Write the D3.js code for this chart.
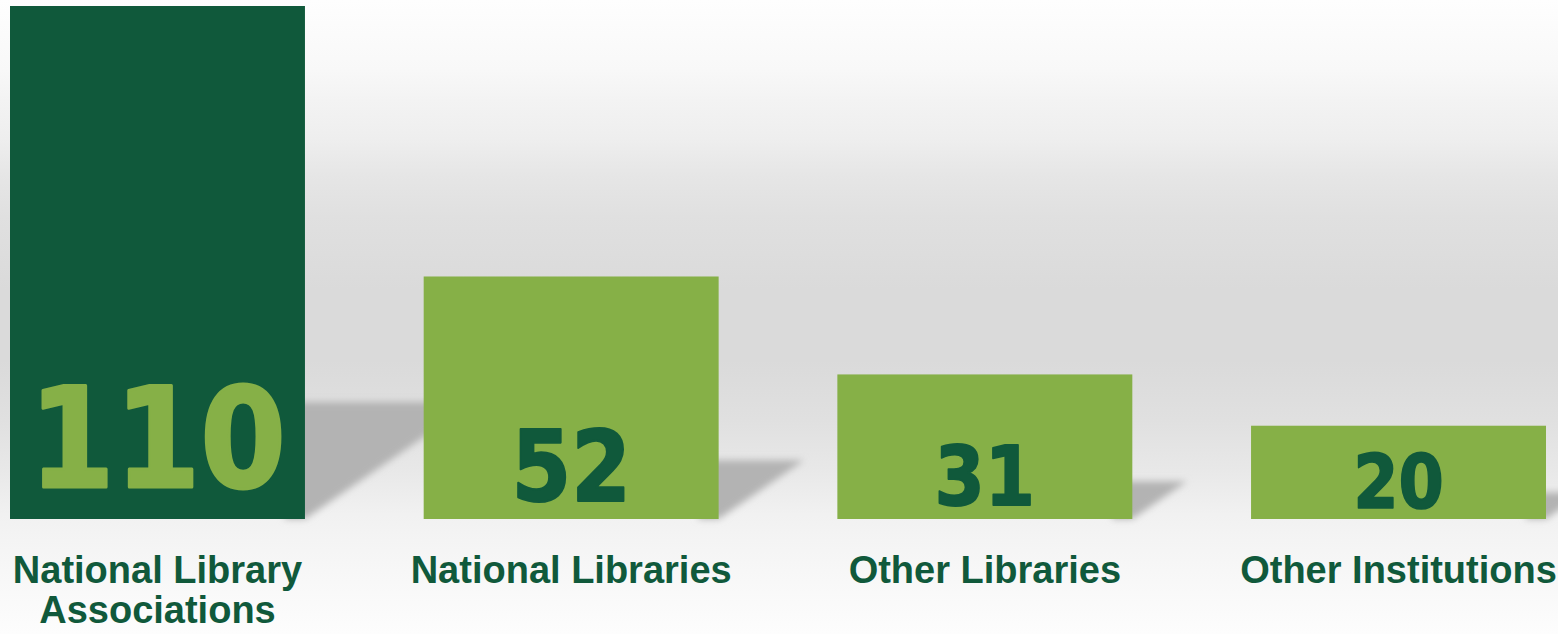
<!DOCTYPE html>
<html>
<head>
<meta charset="utf-8">
<script src="https://cdn.jsdelivr.net/npm/d3@7"></script>
<style>
  body { margin: 0; background: #fff; }
  svg { display: block; }
</style>
</head>
<body>
<div id="chart"></div>
<script>
// data
var categories = ["National Library Associations", "National Libraries", "Other Libraries", "Other Institutions"];
var counts = [110, 52, 31, 20];

var width = 1558, height = 634;
var baseline = 519, topY = 6;
var darkGreen = "#10593b", lightGreen = "#86b047";

var svg = d3.select("#chart").append("svg")
    .attr("width", width)
    .attr("height", height);

var defs = svg.append("defs");

// grey backdrop gradient
var bg = defs.append("linearGradient")
    .attr("id", "bg")
    .attr("x1", 0).attr("y1", 0).attr("x2", 0).attr("y2", 1);
[[0, "#fefefe"], [0.11, "#f8f8f8"], [0.158, "#f3f3f3"], [0.22, "#eeeeee"], [0.276, "#e6e6e6"],
 [0.342, "#e0e0e0"], [0.457, "#dadada"], [0.568, "#dadada"], [0.662, "#e0e0e0"],
 [0.741, "#e8e8e8"], [0.812, "#f1f1f1"], [0.852, "#f4f4f4"], [1, "#fdfdfd"]]
    .forEach(function(s) {
        bg.append("stop").attr("offset", s[0]).attr("stop-color", s[1]);
    });

defs.append("filter")
    .attr("id", "soft")
    .attr("x", "-20%").attr("y", "-20%").attr("width", "140%").attr("height", "140%")
    .append("feGaussianBlur")
    .attr("stdDeviation", 3.5);

svg.append("rect")
    .attr("width", width)
    .attr("height", height)
    .attr("fill", "url(#bg)");

// scales
var x = d3.scaleBand()
    .domain(categories)
    .range([10, 1546])
    .paddingInner(0.287)
    .paddingOuter(0);

var y = d3.scaleLinear()
    .domain([0, d3.max(counts)])
    .range([baseline, topY]);

var maxVal = d3.max(counts);
var data = categories.map(function(c, i) { return { cat: c, val: counts[i] }; });

// cast shadows to the right of each bar
svg.append("g")
    .attr("filter", "url(#soft)")
    .selectAll("path")
    .data(data)
    .enter()
    .append("path")
    .attr("fill", "#b3b3b3")
    .attr("d", function(d) {
        var h = baseline - y(d.val);
        var sh = 0.215 * h + 6.6;
        var xr = x(d.cat) + x.bandwidth();
        return "M" + (xr - 20) + "," + baseline +
            "L" + (xr - 20) + "," + (baseline - sh) +
            "L" + (xr + 1.45 * sh) + "," + (baseline - sh) +
            "L" + xr + "," + baseline + "Z";
    });

// bars
svg.append("g")
    .selectAll("rect")
    .data(data)
    .enter()
    .append("rect")
    .attr("x", function(d) { return x(d.cat); })
    .attr("y", function(d) { return y(d.val); })
    .attr("width", x.bandwidth())
    .attr("height", function(d) { return baseline - y(d.val); })
    .attr("fill", function(d) { return d.val === maxVal ? darkGreen : lightGreen; });

// value labels inside the bars
var ext = d3.extent(counts);
var digitH = d3.scaleLinear().domain(ext).range([54, 102]);
var gap = d3.scaleLinear().domain(ext).range([11, 32]);

svg.append("g")
    .selectAll("text")
    .data(data)
    .enter()
    .append("text")
    .attr("transform", function(d) {
        return "translate(" + (x(d.cat) + x.bandwidth() / 2) + "," + (baseline - gap(d.val)) + ") scale(0.88,1)";
    })
    .attr("text-anchor", "middle")
    .style("font-family", "'DejaVu Sans', sans-serif")
    .style("font-weight", "bold")
    .style("font-size", function(d) { return (digitH(d.val) / 0.729) + "px"; })
    .attr("fill", function(d) { return d.val === maxVal ? lightGreen : darkGreen; })
    .attr("stroke", function(d) { return d.val === maxVal ? lightGreen : darkGreen; })
    .attr("stroke-width", function(d) { return digitH(d.val) * 0.03; })
    .attr("stroke-linejoin", "round")
    .text(function(d) { return d.val; });

// category axis
var axis = svg.append("g")
    .attr("transform", "translate(0," + baseline + ")")
    .call(d3.axisBottom(x).tickSize(0).tickPadding(37));

axis.select(".domain").remove();
axis.selectAll("text")
    .style("font-family", "'Liberation Sans', Arial, sans-serif")
    .style("font-weight", "bold")
    .style("font-size", "38px")
    .attr("fill", darkGreen)
    .call(wrap, x.step());

function wrap(texts, maxW) {
    texts.each(function() {
        var text = d3.select(this);
        var words = text.text().split(/\s+/);
        var yy = text.attr("y");
        text.text(null);
        var line = [];
        var lineNo = 0;
        var tspan = text.append("tspan").attr("x", 0).attr("y", yy).attr("dy", "0.71em");
        words.forEach(function(w) {
            line.push(w);
            tspan.text(line.join(" "));
            if (tspan.node().getComputedTextLength() > maxW && line.length > 1) {
                line.pop();
                tspan.text(line.join(" "));
                line = [w];
                lineNo++;
                tspan = text.append("tspan")
                    .attr("x", 0)
                    .attr("y", yy)
                    .attr("dy", (0.71 + lineNo * 1.05) + "em")
                    .text(w);
            }
        });
    });
}
</script>
</body>
</html>
